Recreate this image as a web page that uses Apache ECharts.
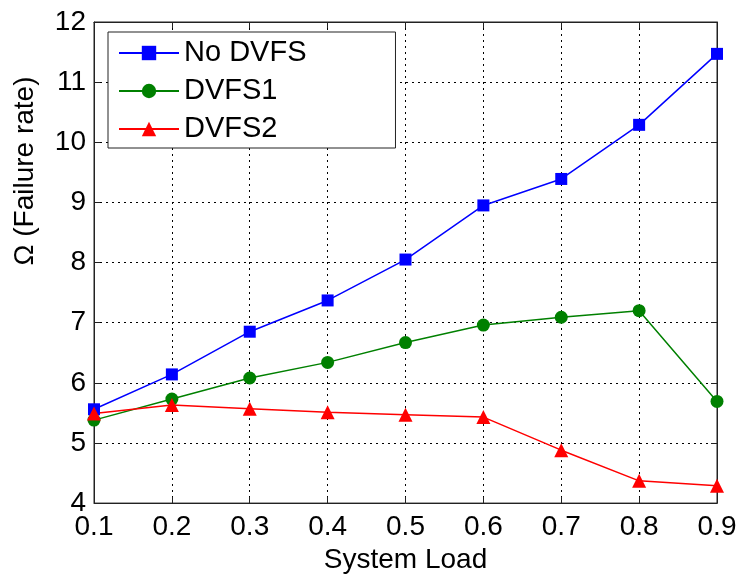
<!DOCTYPE html>
<html>
<head>
<meta charset="utf-8">
<script src="https://cdn.jsdelivr.net/npm/echarts@6/dist/echarts.min.js"></script>
<style>
  html, body { margin: 0; padding: 0; background: #fff; }
  #main { width: 741px; height: 579px; }
</style>
</head>
<body>
<div id="main"></div>
<script>
// system load on the x axis
const loads = [0.1, 0.2, 0.3, 0.4, 0.5, 0.6, 0.7, 0.8, 0.9];
// failure rate for each scheme
const noDvfs = [5.56, 6.14, 6.85, 7.37, 8.05, 8.95, 9.39, 10.29, 11.47];
const dvfs1  = [5.38, 5.73, 6.08, 6.34, 6.67, 6.96, 7.09, 7.20, 5.69];
const dvfs2  = [5.49, 5.63, 5.57, 5.51, 5.47, 5.43, 4.88, 4.37, 4.29];
const seriesNames = ['No DVFS', 'DVFS1', 'DVFS2'];

const font = 'Liberation Sans, Arial, sans-serif';

function pairs(vals) {
    return loads.map((x, i) => [x, vals[i]]);
}

const chart = echarts.init(document.getElementById('main'));

const gridLine = { show: true, lineStyle: { color: '#000', type: [2, 4], width: 1 } };
const tickIn = { show: true, inside: true, length: 6, lineStyle: { color: '#222' } };

const option = {
    backgroundColor: '#fff',
    animation: false,
    textStyle: { fontFamily: font },
    grid: {
        left: 94, right: 24, top: 22, bottom: 71,
        show: true, borderColor: '#222', borderWidth: 1
    },
    legend: {
        data: seriesNames,
        left: 108, top: 32,
        orient: 'vertical',
        backgroundColor: '#fff',
        borderColor: '#222', borderWidth: 1,
        padding: [6, 89, 4, 10],
        itemWidth: 60, itemHeight: 18, itemGap: 8,
        textStyle: { fontFamily: font, fontSize: 29, color: '#000', lineHeight: 30 }
    },
    xAxis: [{
        type: 'value', min: 0.1, max: 0.9, interval: 0.1,
        name: 'System Load', nameLocation: 'middle', nameGap: 37,
        nameTextStyle: { fontFamily: font, fontSize: 28, color: '#000' },
        axisLine: { show: true, lineStyle: { color: '#222' } },
        axisTick: tickIn,
        axisLabel: { fontFamily: font, fontSize: 28, color: '#000', margin: 10,
            formatter: v => v.toFixed(1) },
        splitLine: gridLine
    }, {
        type: 'value', position: 'top', min: 0.1, max: 0.9, interval: 0.1,
        axisLine: { show: true, lineStyle: { color: '#222' } },
        axisTick: tickIn, axisLabel: { show: false }, splitLine: { show: false }
    }],
    yAxis: [{
        type: 'value', min: 4, max: 12, interval: 1,
        axisLine: { show: true, lineStyle: { color: '#222' } },
        axisTick: tickIn,
        axisLabel: { fontFamily: font, fontSize: 28, color: '#000', margin: 8 },
        splitLine: gridLine
    }, {
        type: 'value', position: 'right', min: 4, max: 12, interval: 1,
        axisLine: { show: true, lineStyle: { color: '#222' } },
        axisTick: tickIn, axisLabel: { show: false }, splitLine: { show: false }
    }],
    graphic: [{
        type: 'text',
        x: 25, y: 171,
        rotation: Math.PI / 2,
        style: {
            text: 'Ω (Failure rate)',
            font: '28px ' + font,
            fill: '#000',
            align: 'center',
            verticalAlign: 'middle'
        }
    }],
    series: [{
        name: seriesNames[0], type: 'line', data: pairs(noDvfs),
        symbol: 'rect', symbolSize: 12,
        lineStyle: { color: '#0000ff', width: 1.5 },
        itemStyle: { color: '#0000ff' }
    }, {
        name: seriesNames[1], type: 'line', data: pairs(dvfs1),
        symbol: 'circle', symbolSize: 13,
        lineStyle: { color: '#008000', width: 1.5 },
        itemStyle: { color: '#008000' }
    }, {
        name: seriesNames[2], type: 'line', data: pairs(dvfs2),
        symbol: 'triangle', symbolSize: 14,
        lineStyle: { color: '#ff0000', width: 1.5 },
        itemStyle: { color: '#ff0000' }
    }]
};

chart.setOption(option);
</script>
</body>
</html>
